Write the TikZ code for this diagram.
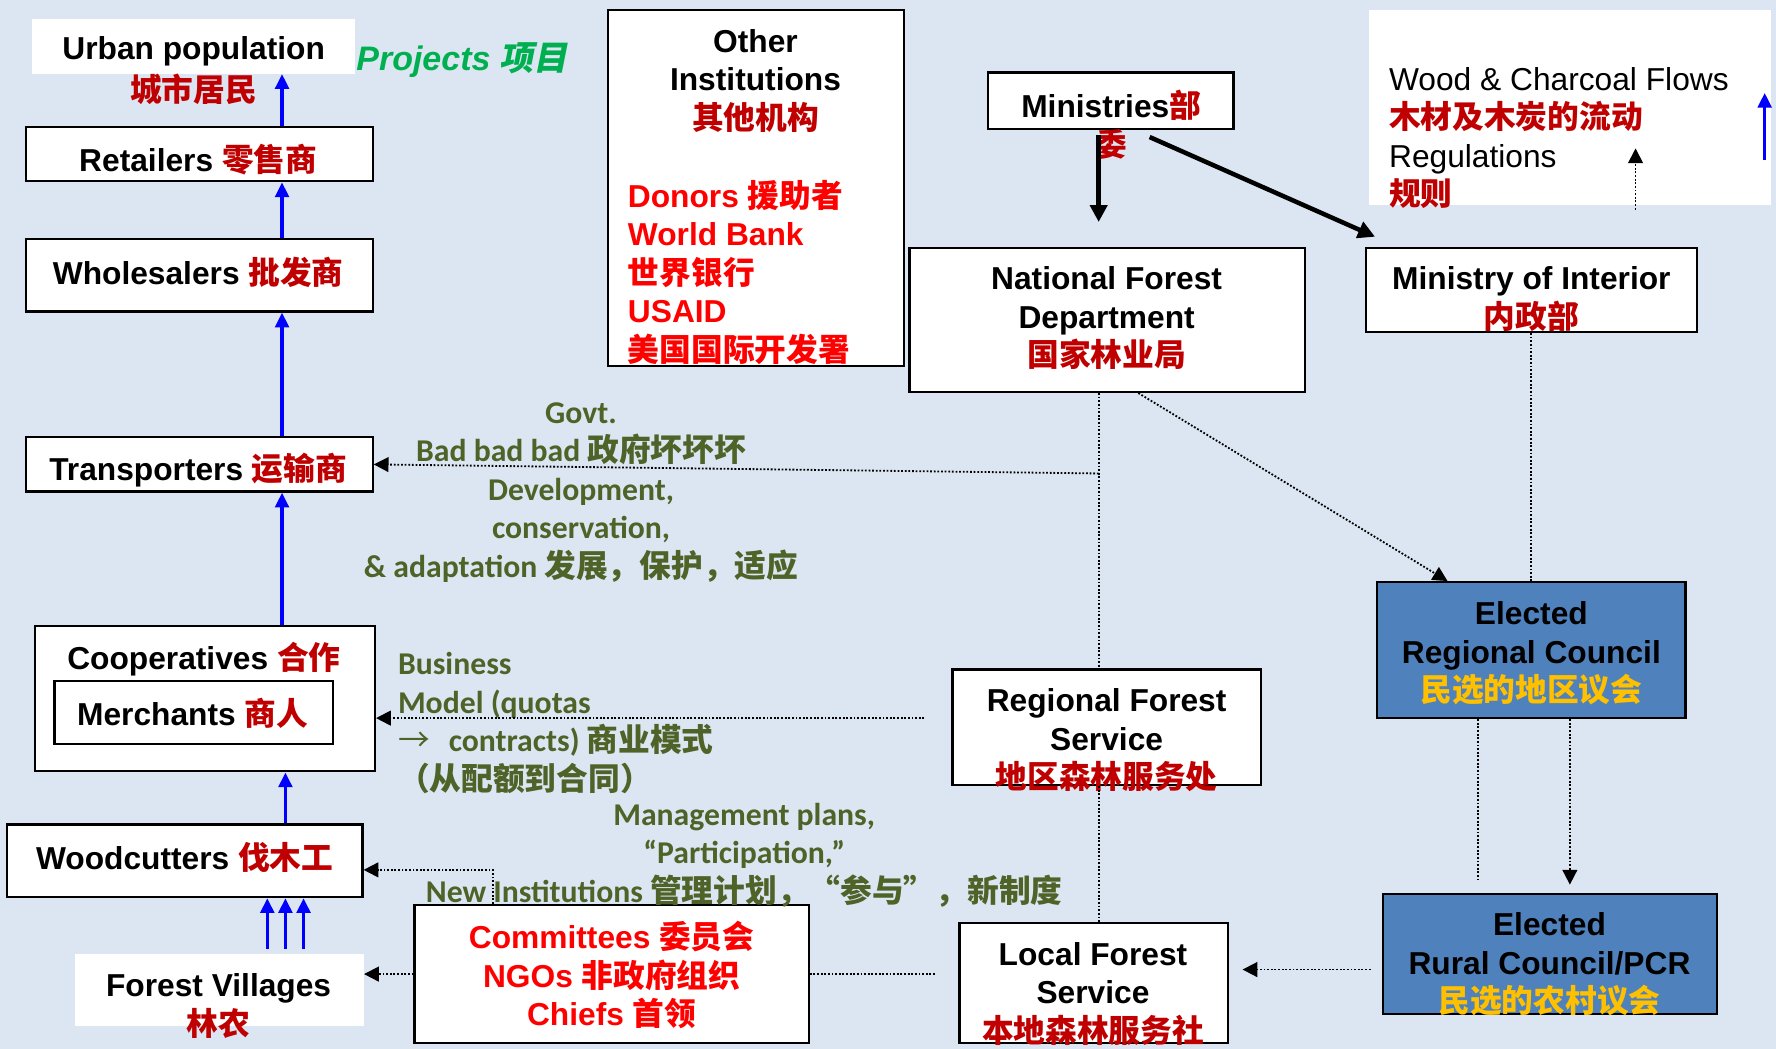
\documentclass[tikz,border=0pt]{standalone}
\usepackage{fontspec}
\setmainfont{Liberation Sans}
\newfontfamily\cjk{Noto Sans CJK SC}
\newfontfamily\cjksl{Noto Sans CJK SC}[FakeSlant=0.2]
\newfontfamily\cali{Carlito}
\usetikzlibrary{arrows.meta,fit,calc}
\definecolor{bg}{HTML}{DCE6F2}
\definecolor{dred}{HTML}{C00000}
\definecolor{bred}{HTML}{FF0000}
\definecolor{olivec}{HTML}{4F6228}
\definecolor{pgreen}{HTML}{00B050}
\definecolor{eblue}{HTML}{4F81BD}
\definecolor{cyel}{HTML}{FFC000}
\definecolor{fblue}{HTML}{0000FF}
\tikzset{
  box/.style={draw=black, line width=1pt, fill=white, inner sep=0pt},
  wbox/.style={fill=white, inner sep=0pt},
  ebox/.style={draw=black, line width=1pt, fill=eblue, inner sep=0pt},
  t/.style={inner sep=0pt, yshift=-1pt, align=center, font=\fontsize{14}{17}\selectfont\bfseries},
  g/.style={inner sep=0pt, yshift=-1pt, font=\fontsize{14}{17}\selectfont\cali\bfseries, text=olivec},
  flow/.style={draw=fblue, line width=1.5pt, -{Triangle[width=6pt,length=6.5pt]}},
  reg/.style={line width=0.8pt, dash pattern=on 0.8pt off 0.8pt},
  regarrow/.style={reg, -{Triangle[width=6.5pt,length=6.5pt]}},
  govarrow/.style={line width=2pt, -{Triangle[width=7.5pt,length=7.5pt]}}
}
\begin{document}
\begin{tikzpicture}[x=0.5pt,y=-0.5pt]
\fill[bg] (0,0) rectangle (1568,926);
\useasboundingbox (0,0) rectangle (1568,926);
% boxes
\node[wbox, fit={(28,17)(313,65)}] (urb) {};
\node[box, fit={(23,112)(329,160)}] (ret) {};
\node[box, fit={(23,211)(329,275)}] (whs) {};
\node[box, fit={(23,386)(329,434)}] (trp) {};
\node[box, fit={(31,553)(331,681)}] (coop) {};
\node[box, fit={(48,601)(294,657)}] (mer) {};
\node[box, fit={(6,728)(320,792)}] (wc) {};
\node[wbox, fit={(66,842)(321,906)}] (fv) {};
\node[box, fit={(537,9)(798,323)}] (oth) {};
\node[box, fit={(872,64)(1089,114)}] (min) {};
\node[box, fit={(803,219)(1152,346)}] (nfd) {};
\node[box, fit={(1206,219)(1498,293)}] (moi) {};
\node[wbox, fit={(1209,9)(1564,181)}] (leg) {};
\node[ebox, fit={(1216,514)(1488,634)}] (erc) {};
\node[box, fit={(841,591)(1113,693)}] (rfs) {};
\node[box, fit={(847,815)(1084,921)}] (lfs) {};
\node[ebox, fit={(1221,789)(1516,895)}] (rur) {};
\node[box, fit={(366,799)(714,921)}] (com) {};
% texts
\node[t] (turb) at (171,43) {Urban population};
\node[t, text=dred] (turb2) at (171,77) {\cjk 城市居民};
\node[t] (tret) at (175,139) {Retailers \textcolor{dred}{\cjk 零售商}};
\node[t] (twhs) at (175,238) {Wholesalers \textcolor{dred}{\cjk 批发商}};
\node[t] (ttrp) at (175,413) {Transporters \textcolor{dred}{\cjk 运输商}};
\node[t] (tcoop) at (180,580) {Cooperatives \textcolor{dred}{\cjk 合作}};
\node[t] (tmer) at (170,628) {Merchants \textcolor{dred}{\cjk 商人}};
\node[t] (twc) at (163,755) {Woodcutters \textcolor{dred}{\cjk 伐木工}};
\node[t] (tfv) at (193,886) {Forest Villages\\\textcolor{dred}{\cjk 林农}};
\node[t, font=\fontsize{15}{18}\selectfont\bfseries\itshape, text=pgreen] (tproj) at (408,51) {Projects {\cjksl 项目}};
\node[t] (toth) at (667,69.5) {Other\\Institutions\\\textcolor{dred}{\cjk 其他机构}};
\node[t, align=left, anchor=west, text=bred] (tdon) at (554,238.5) {Donors {\cjk 援助者}\\World Bank\\{\cjk 世界银行}\\USAID\\{\cjk 美国国际开发署}};
\node[t] (tmin) at (981,108) {Ministries{\cjk\color{dred}部}\\{\cjk\color{dred}委}};
\node[t] (tnfd) at (977,279) {National Forest\\Department\\\textcolor{dred}{\cjk 国家林业局}};
\node[t] (tmoi) at (1352,262) {Ministry of Interior\\\textcolor{dred}{\cjk 内政部}};
\node[t, align=left, anchor=west, font=\fontsize{14}{17}\selectfont] (tleg) at (1226,120) {Wood \& Charcoal Flows\\{\bfseries\cjk\color{dred}木材及木炭的流动}\\Regulations\\{\bfseries\cjk\color{dred}规则}};
\node[t] (terc) at (1352,575) {Elected\\Regional Council\\\textcolor{cyel}{\cjk 民选的地区议会}};
\node[t] (trfs) at (977,651.5) {Regional Forest\\Service\\\textcolor{dred}{\cjk 地区森林服务处}};
\node[t] (tlfs) at (965,875.5) {Local Forest\\Service\\\textcolor{dred}{\cjk 本地森林服务社}};
\node[t] (trur) at (1368,849.5) {Elected\\Rural Council/PCR\\\textcolor{cyel}{\cjk 民选的农村议会}};
\node[t, text=bred] (tcom) at (540,859) {Committees {\cjk 委员会}\\NGOs {\cjk 非政府组织}\\Chiefs {\cjk 首领}};
% green labels
\node[g, align=center] (tgov) at (513,432.5) {Govt.\\Bad bad bad {\cjk 政府坏坏坏}\\Development,\\conservation,\\\& adaptation {\cjk 发展，保护，适应}};
\node[g, align=left, anchor=west] (tbus) at (351,636.5) {Business\\Model (quotas\\{\cjk\mdseries →}\hspace{0.6em}contracts) {\cjk 商业模式}\\{\cjk （从配额到合同）}};
\node[g, align=center] (tman) at (657,753) {Management plans,\\“Participation,”\\New Institutions {\cjk 管理计划，“参与”，新制度}};
% blue flows
\coordinate (bx) at (249,0);
\coordinate (bx2) at (252,0);
\draw[flow] (ret.north -| bx) -- (urb.south -| bx);
\draw[flow] (whs.north -| bx) -- (ret.south -| bx);
\draw[flow] (trp.north -| bx) -- (whs.south -| bx);
\draw[flow] (coop.north -| bx) -- (trp.south -| bx);
\draw[flow] (wc.north -| bx2) -- (coop.south -| bx2);
\foreach \xx/\nm in {236/fa,252/fb,268/fc}{
  \coordinate (\nm) at (\xx,838);
  \draw[flow] (\nm) -- (wc.south -| \nm);
}
\coordinate (la1) at (1558,141);
\coordinate (la2) at (1558,82);
\draw[flow] (la1) -- (la2);
\coordinate (ld1) at (1444,185);
\coordinate (ld2) at (1444,131);
\draw[regarrow] (ld1) -- (ld2);
% government arrows
\coordinate (m1) at (970,0);
\draw[govarrow] ($(min.south -| m1)+(0,4)$) -- ($(nfd.north -| m1)+(0,-22)$);
\draw[govarrow] ($(min.south)+(34.5,6)$) -- ($(moi.north west)+(9,-9)$);
% dotted regulation lines
\coordinate (vx) at (970,0);
\coordinate (j1) at (970,418);
\draw[reg] (nfd.south -| vx) -- (rfs.north -| vx);
\draw[reg] (rfs.south -| vx) -- (lfs.north -| vx);
\draw[regarrow] (j1) -- (trp.east);
\draw[regarrow] ($(nfd.south)+(27.5,0)$) -- ($(erc.north)+(-74,0)$);
\draw[reg] (moi.south) -- (erc.north);
\path ($(rfs.west)+(-24,-8)$) coordinate (rb);
\draw[regarrow] (rb) -- (rb -| coop.east);
\coordinate (x1305) at (1305,777);
\draw[reg] (erc.south -| x1305) -- (x1305);
\coordinate (x1386) at (1386,0);
\draw[regarrow] (erc.south -| x1386) -- ($(rur.north -| x1386)+(0,-7)$);
\path ($(rur.west)+(-10,14)$) coordinate (rr);
\draw[regarrow] (rr) -- ($(rr -| lfs.east)+(12,0)$);
\coordinate (ce) at (826,860);
\draw[reg] (com.east) -- (ce);
\draw[regarrow] (com.west) -- (com.west -| fv.east);
\coordinate (k) at (435,768);
\draw[regarrow] (com.north -| k) -- (k) -- (k -| wc.east);
\end{tikzpicture}
\end{document}
